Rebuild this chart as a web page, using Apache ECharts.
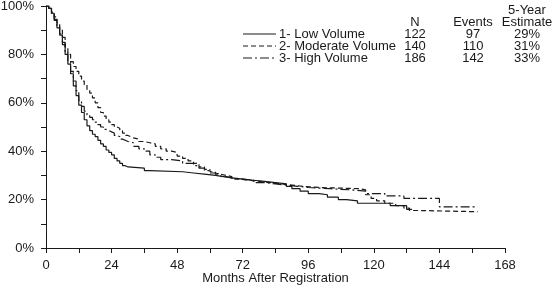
<!DOCTYPE html>
<html>
<head>
<meta charset="utf-8">
<style>
  html, body { margin: 0; padding: 0; background: #fff; }
  #km { width: 552px; height: 287px; }
</style>
<script src="https://cdn.jsdelivr.net/npm/echarts@6/dist/echarts.min.js"></script>
</head>
<body>
<div id="km"></div>
<script>
// 坐标轴刻度
const monthTicks = [0, 24, 48, 72, 96, 120, 144, 168];
const pctTicks = [0, 20, 40, 60, 80, 100];

// 图例表格
const groupNames = ['1- Low Volume', '2- Moderate Volume', '3- High Volume'];
const groupN = [122, 140, 186];
const groupEvents = [97, 110, 142];
const groupEst = ['29%', '31%', '33%'];

// 生存曲线 [月, %]
const lowMonths = [0, 1, 2, 3, 4, 5, 6, 7, 8, 9, 10, 11, 12, 13, 14, 15, 16, 17, 18, 19, 20, 21, 22, 23, 24, 25, 26, 27, 28, 29, 30, 36, 38, 50, 54, 58, 62, 65, 68, 72, 76, 80, 84, 88, 90, 93, 96, 100, 103, 107, 110, 114, 126, 132, 134];
const lowSurv = [100, 99, 97, 94, 91, 88, 84, 80, 76, 72, 67, 63, 59, 56, 53, 50.5, 48.5, 47, 46, 44.5, 43, 42, 40.5, 39.5, 38.5, 37, 36, 35, 34, 33.5, 33, 32, 31.5, 31, 30.5, 30, 29.5, 29, 28.5, 28, 27.5, 27, 26.5, 25.5, 24.5, 23.5, 22.5, 22, 21, 20, 19.5, 18.5, 17.5, 16, 16];

const modMonths = [0, 1, 2, 3, 4, 5, 6, 7, 8, 9, 10, 11, 12, 13, 14, 15, 16, 17, 18, 19, 20, 21, 22, 23, 24, 25, 26, 27, 28, 29, 30, 31, 32, 34, 36, 38, 40, 42, 44, 46, 48, 50, 52, 54, 56, 58, 60, 62, 64, 66, 68, 71, 74, 78, 82, 86, 90, 94, 100, 115, 117, 119, 121, 124, 128, 131, 133, 136, 158];
const modSurv = [100, 99, 97.5, 95.5, 93, 90, 87, 83, 80, 77, 75, 73, 71, 69, 67.5, 65.5, 64, 62, 60, 58, 56, 54.5, 53, 52, 51, 50, 49.5, 48.5, 47.5, 46.5, 46, 45.5, 45, 44, 43.5, 43, 42, 41, 40, 39.5, 38, 37, 36, 35, 33.5, 32.5, 31.5, 30.5, 30, 29.5, 28.5, 28, 27.5, 27, 26.5, 26, 25.5, 25, 24.5, 24, 22, 20.5, 19.5, 18.5, 17.5, 16.5, 15.5, 15, 15];

const highMonths = [0, 1, 2, 3, 4, 5, 6, 7, 8, 9, 10, 11, 12, 13, 14, 15, 16, 17, 18, 19, 20, 21, 22, 23, 24, 25, 26, 27, 28, 29, 30, 32, 34, 36, 38, 40, 42, 46, 50, 54, 56, 58, 60, 62, 64, 66, 68, 72, 76, 80, 84, 88, 92, 96, 104, 112, 117, 124, 131, 144, 158];
const highSurv = [100, 99, 97, 94.5, 91.5, 88.5, 85, 81, 77, 73, 69, 65, 61, 58.5, 56.5, 55, 54, 53, 52, 51, 50, 49, 48.5, 48, 47.5, 46.5, 46, 45, 44.5, 44, 43.5, 42, 41, 40, 38.5, 37.5, 36.5, 36, 35, 34, 33, 32, 31, 30.5, 29.5, 29, 28.5, 28, 27, 26.5, 26, 25.5, 25, 24.5, 24, 23.5, 22.5, 21.5, 20.5, 17, 17];

function pairs (xs, ys) {
  return xs.map(function (x, i) { return [x, ys[i]]; });
}

function getKmChart () {
  const myChart = echarts.init(document.getElementById('km'));
  const font = 'Liberation Sans, Arial, sans-serif';
  const fs = 13;
  const ink = '#1a1a1a';
  const dashes = [null, [5, 3], [9, 3, 2, 3]];

  // 右上角图例 + N / Events / Estimate 表格
  const colX = [415, 473, 527];
  const rowY = [34, 46, 58];
  const table = [];
  const head = [['N'], ['Events'], ['5-Year', 'Estimate']];
  head.forEach(function (h, c) {
    h.forEach(function (t, k) {
      table.push({
        type: 'text', x: colX[c], y: 22 - (h.length - 1 - k) * 12,
        style: { text: t, font: fs + 'px ' + font, fill: ink, align: 'center', verticalAlign: 'middle' }
      });
    });
  });
  groupNames.forEach(function (name, r) {
    table.push({
      type: 'line',
      shape: { x1: 243, y1: rowY[r], x2: 276, y2: rowY[r] },
      style: { stroke: ink, lineWidth: 1.2, lineDash: dashes[r] }
    });
    table.push({
      type: 'text', x: 279, y: rowY[r],
      style: { text: name, font: fs + 'px ' + font, fill: ink, align: 'left', verticalAlign: 'middle' }
    });
    [groupN[r], groupEvents[r], groupEst[r]].forEach(function (v, c) {
      table.push({
        type: 'text', x: colX[c], y: rowY[r],
        style: { text: String(v), font: fs + 'px ' + font, fill: ink, align: 'center', verticalAlign: 'middle' }
      });
    });
  });

  const option = {
    animation: false,
    grid: { left: 46, right: 47, top: 6, bottom: 39, outerBoundsMode: 'none' },
    xAxis: {
      type: 'value',
      min: 0,
      max: 168,
      interval: 24,
      name: 'Months After Registration',
      nameLocation: 'middle',
      nameGap: 24,
      nameMoveOverlap: false,
      nameTextStyle: { fontFamily: font, fontSize: fs, color: ink },
      axisLine: { lineStyle: { color: ink, width: 1 } },
      axisTick: { length: 5, lineStyle: { color: ink } },
      minorTick: { show: true, splitNumber: 2, length: 5, lineStyle: { color: ink } },
      axisLabel: {
        fontFamily: font, fontSize: fs, color: ink, margin: 11,
        formatter: function (v) { return monthTicks.indexOf(v) >= 0 ? String(v) : ''; }
      },
      splitLine: { show: false }
    },
    yAxis: {
      type: 'value',
      min: 0,
      max: 100,
      interval: 20,
      axisLine: { show: true, lineStyle: { color: ink, width: 1 } },
      axisTick: { show: true, length: 5, lineStyle: { color: ink } },
      minorTick: { show: true, splitNumber: 2, length: 5, lineStyle: { color: ink } },
      axisLabel: {
        fontFamily: font, fontSize: fs, color: ink, margin: 12,
        formatter: function (v) { return pctTicks.indexOf(v) >= 0 ? v + '%' : ''; }
      },
      splitLine: { show: false }
    },
    series: [
      {
        name: groupNames[0], type: 'line', step: 'end', symbol: 'none',
        lineStyle: { color: ink, width: 1.2, type: 'solid' },
        data: pairs(lowMonths, lowSurv)
      },
      {
        name: groupNames[1], type: 'line', step: 'end', symbol: 'none',
        lineStyle: { color: ink, width: 1.2, type: dashes[1] },
        data: pairs(modMonths, modSurv)
      },
      {
        name: groupNames[2], type: 'line', step: 'end', symbol: 'none',
        lineStyle: { color: ink, width: 1.2, type: dashes[2] },
        data: pairs(highMonths, highSurv)
      }
    ],
    graphic: table
  };

  myChart.setOption(option);

  window.addEventListener('resize', function () {
    myChart.resize();
  });
}

getKmChart();
</script>
</body>
</html>
